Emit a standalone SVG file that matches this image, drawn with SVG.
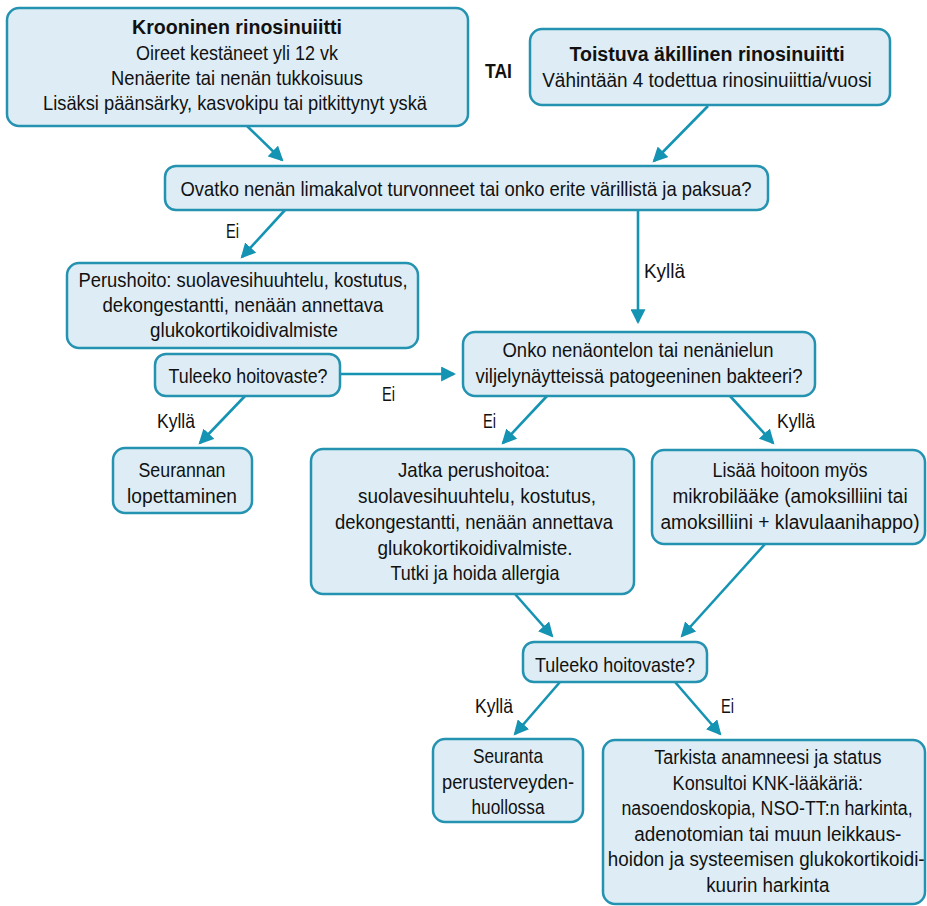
<svg xmlns="http://www.w3.org/2000/svg" width="927" height="906" viewBox="0 0 927 906">
<defs>
<style>
.box{fill:#deedf5;stroke:#2492b1;stroke-width:2.5}
.t{font-family:"Liberation Sans",Arial,sans-serif;font-size:21px;fill:#111;text-anchor:middle}
.b{font-weight:bold}
.l{font-family:"Liberation Sans",Arial,sans-serif;font-size:21px;fill:#111}
.c{stroke:#1593b3;stroke-width:2.6;fill:none;marker-end:url(#ah)}
</style>
<marker id="ah" viewBox="0 0 14 14" refX="12" refY="7" markerWidth="15" markerHeight="15" markerUnits="userSpaceOnUse" orient="auto">
<path d="M0,0 L14,7 L0,14 z" fill="#1593b3"/>
</marker>
</defs>
<rect width="927" height="906" fill="#ffffff"/>

<g id="connectors">
<line class="c" x1="247" y1="126" x2="282" y2="160"/>
<line class="c" x1="708" y1="106" x2="654" y2="161"/>
<line class="c" x1="285" y1="210" x2="242" y2="257"/>
<line class="c" x1="638" y1="210" x2="638" y2="322"/>
<line class="c" x1="340" y1="374" x2="454" y2="374"/>
<line class="c" x1="245" y1="396" x2="200" y2="443"/>
<line class="c" x1="547" y1="396" x2="503" y2="443"/>
<line class="c" x1="730" y1="396" x2="773" y2="443"/>
<line class="c" x1="515" y1="594" x2="552" y2="636"/>
<line class="c" x1="765" y1="544" x2="682" y2="636"/>
<line class="c" x1="560" y1="682" x2="515" y2="734"/>
<line class="c" x1="675" y1="682" x2="720" y2="734"/>
<text class="l" x="226" y="238" textLength="13" lengthAdjust="spacingAndGlyphs">Ei</text>
<text class="l" x="644" y="278" textLength="41" lengthAdjust="spacingAndGlyphs">Kyllä</text>
<text class="l" x="382" y="401" textLength="13" lengthAdjust="spacingAndGlyphs">Ei</text>
<text class="l" x="157" y="428" textLength="38" lengthAdjust="spacingAndGlyphs">Kyllä</text>
<text class="l" x="483" y="428" textLength="13" lengthAdjust="spacingAndGlyphs">Ei</text>
<text class="l" x="777" y="428" textLength="38" lengthAdjust="spacingAndGlyphs">Kyllä</text>
<text class="l" x="475" y="713" textLength="38" lengthAdjust="spacingAndGlyphs">Kyllä</text>
<text class="l" x="721" y="713" textLength="13" lengthAdjust="spacingAndGlyphs">Ei</text>
</g>

<g id="n1">
<rect class="box" x="7" y="8" width="461" height="118" rx="12"/>
<text class="t b" x="237" y="34" textLength="210" lengthAdjust="spacingAndGlyphs">Krooninen rinosinuiitti</text>
<text class="t" x="237" y="60" textLength="202" lengthAdjust="spacingAndGlyphs">Oireet kestäneet yli 12 vk</text>
<text class="t" x="237" y="85" textLength="252" lengthAdjust="spacingAndGlyphs">Nenäerite tai nenän tukkoisuus</text>
<text class="t" x="235" y="110" textLength="384" lengthAdjust="spacingAndGlyphs">Lisäksi päänsärky, kasvokipu tai pitkittynyt yskä</text>
</g>

<g id="tai">
<text class="l b" x="485" y="78" textLength="27" lengthAdjust="spacingAndGlyphs">TAI</text>
</g>

<g id="n2">
<rect class="box" x="530" y="29" width="360" height="76" rx="12"/>
<g transform="translate(707,0) scale(0.8,1)">
<text class="t b" x="0" y="61" textLength="344" lengthAdjust="spacingAndGlyphs">Toistuva äkillinen rinosinuiitti</text>
<text class="t" x="0" y="87" textLength="412" lengthAdjust="spacingAndGlyphs">Vähintään 4 todettua rinosinuiittia/vuosi</text>
</g>
</g>

<g id="n3">
<rect class="box" x="165" y="166" width="603" height="44" rx="11"/>
<text class="t" x="466" y="196" textLength="571" lengthAdjust="spacingAndGlyphs">Ovatko nenän limakalvot turvonneet tai onko erite värillistä ja paksua?</text>
</g>

<g id="n4">
<rect class="box" x="67" y="263" width="351" height="85" rx="12"/>
<text class="t" x="243" y="287" textLength="329" lengthAdjust="spacingAndGlyphs">Perushoito: suolavesihuuhtelu, kostutus,</text>
<text class="t" x="243" y="312" textLength="281" lengthAdjust="spacingAndGlyphs">dekongestantti, nenään annettava</text>
<text class="t" x="244" y="337" textLength="188" lengthAdjust="spacingAndGlyphs">glukokortikoidivalmiste</text>
</g>

<g id="n5">
<rect class="box" x="155" y="354" width="185" height="42" rx="11"/>
<text class="t" x="248" y="383" textLength="159" lengthAdjust="spacingAndGlyphs">Tuleeko hoitovaste?</text>
</g>

<g id="n6">
<rect class="box" x="463" y="332" width="352" height="64" rx="12"/>
<text class="t" x="638" y="357" textLength="271" lengthAdjust="spacingAndGlyphs">Onko nenäontelon tai nenänielun</text>
<text class="t" x="639" y="383" textLength="327" lengthAdjust="spacingAndGlyphs">viljelynäytteissä patogeeninen bakteeri?</text>
</g>

<g id="n7">
<rect class="box" x="113" y="448" width="139" height="65" rx="12"/>
<text class="t" x="182" y="477" textLength="87" lengthAdjust="spacingAndGlyphs">Seurannan</text>
<text class="t" x="182" y="503" textLength="110" lengthAdjust="spacingAndGlyphs">lopettaminen</text>
</g>

<g id="n8">
<rect class="box" x="311" y="449" width="323" height="145" rx="12"/>
<text class="t" x="474" y="477" textLength="152" lengthAdjust="spacingAndGlyphs">Jatka perushoitoa:</text>
<text class="t" x="477" y="503" textLength="238" lengthAdjust="spacingAndGlyphs">suolavesihuuhtelu, kostutus,</text>
<text class="t" x="474" y="529" textLength="278" lengthAdjust="spacingAndGlyphs">dekongestantti, nenään annettava</text>
<text class="t" x="475" y="555" textLength="195" lengthAdjust="spacingAndGlyphs">glukokortikoidivalmiste.</text>
<text class="t" x="475" y="580" textLength="169" lengthAdjust="spacingAndGlyphs">Tutki ja hoida allergia</text>
</g>

<g id="n9">
<rect class="box" x="652" y="450" width="273" height="94" rx="12"/>
<g transform="translate(790,0) scale(0.8,1)">
<text class="t" x="0" y="477" textLength="194" lengthAdjust="spacingAndGlyphs">Lisää hoitoon myös</text>
<text class="t" x="0" y="503" textLength="294" lengthAdjust="spacingAndGlyphs">mikrobilääke (amoksilliini tai</text>
<text class="t" x="0" y="529" textLength="324" lengthAdjust="spacingAndGlyphs">amoksilliini + klavulaanihappo)</text>
</g>
</g>

<g id="n10">
<rect class="box" x="523" y="642" width="184" height="40" rx="11"/>
<text class="t" x="615" y="672" textLength="160" lengthAdjust="spacingAndGlyphs">Tuleeko hoitovaste?</text>
</g>

<g id="n11">
<rect class="box" x="433" y="739" width="150" height="83" rx="12"/>
<text class="t" x="508" y="763" textLength="70" lengthAdjust="spacingAndGlyphs">Seuranta</text>
<text class="t" x="508" y="789" textLength="132" lengthAdjust="spacingAndGlyphs">perusterveyden-</text>
<text class="t" x="508" y="814" textLength="73" lengthAdjust="spacingAndGlyphs">huollossa</text>
</g>

<g id="n12">
<rect class="box" x="603" y="740" width="322" height="164" rx="12"/>
<g transform="translate(767,0) scale(0.8,1)">
<text class="t" x="1" y="764" textLength="284" lengthAdjust="spacingAndGlyphs">Tarkista anamneesi ja status</text>
<text class="t" x="1" y="790" textLength="238" lengthAdjust="spacingAndGlyphs">Konsultoi KNK-lääkäriä:</text>
<text class="t" x="0" y="815" textLength="364" lengthAdjust="spacingAndGlyphs">nasoendoskopia, NSO-TT:n harkinta,</text>
<text class="t" x="1" y="841" textLength="334" lengthAdjust="spacingAndGlyphs">adenotomian tai muun leikkaus-</text>
<text class="t" x="-1" y="866" textLength="396" lengthAdjust="spacingAndGlyphs">hoidon ja systeemisen glukokortikoidi-</text>
<text class="t" x="1" y="892" textLength="154" lengthAdjust="spacingAndGlyphs">kuurin harkinta</text>
</g>
</g>
</svg>
